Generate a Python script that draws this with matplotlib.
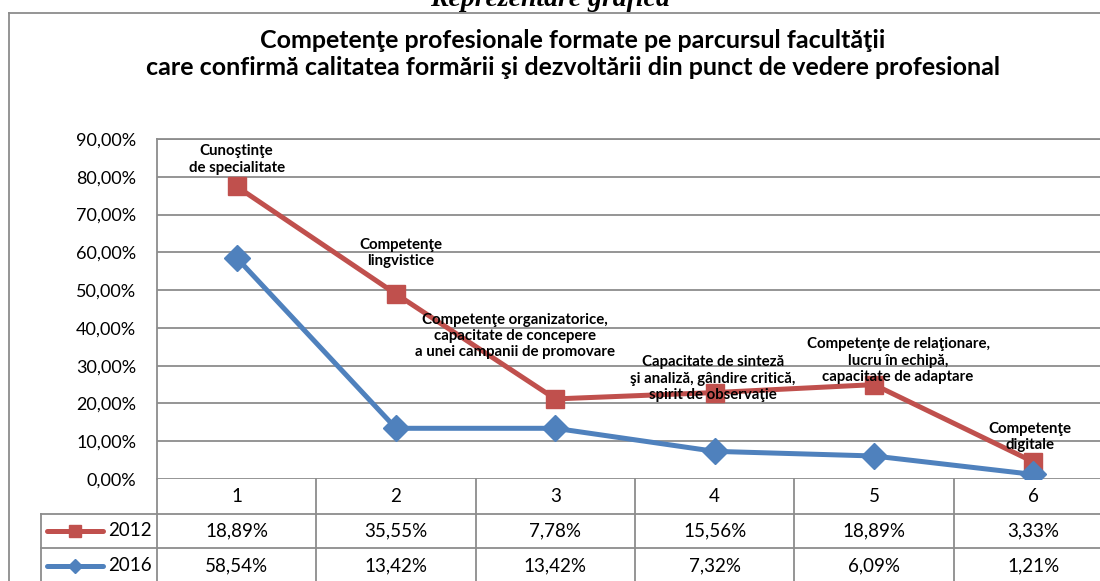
import numpy as np
import matplotlib
matplotlib.use('Agg')
import matplotlib.pyplot as plt
from matplotlib.lines import Line2D
from matplotlib.ticker import FuncFormatter

# Data (table values, %)
categories = ['1', '2', '3', '4', '5', '6']
series_names = ['2012', '2016']
v2012 = [18.89, 35.55, 7.78, 15.56, 18.89, 3.33]
v2016 = [58.54, 13.42, 13.42, 7.32, 6.09, 1.21]
point_labels = ['Cunoştinţe\nde specialitate',
                'Competenţe\nlingvistice',
                'Competenţe organizatorice,\ncapacitate de concepere\na unei campanii de promovare',
                'Capacitate de sinteză\nşi analiză, gândire critică,\nspirit de observaţie',
                'Competenţe de relaţionare,\nlucru în echipă,\ncapacitate de adaptare',
                'Competenţe\ndigitale']
label_offsets = [(0, 27), (5, 41), (-40, 63), (-2, 14), (24, 24), (-3, 25)]  # pixels

title = ('Competenţe profesionale formate pe parcursul facultăţii\n'
         'care confirmă calitatea formării şi dezvoltării din punct de vedere profesional')

red = '#C0504D'
blue = '#4F81BD'
grid_c = '#8C8C8C'

plt.rcParams['font.family'] = ['Lato', 'DejaVu Sans']

W, H = 1100, 581
fig = plt.figure(figsize=(W / 100, H / 100), dpi=100)

# axes placed in pixel terms
left, right, top, bottom = 157, 1113, 139, 479
ax = fig.add_axes([left / W, 1 - bottom / H, (right - left) / W, (bottom - top) / H])

x = np.arange(1, len(categories) + 1)
# stacked line chart
s2016 = np.array(v2016) / 100
s2012 = s2016 + np.array(v2012) / 100

ax.plot(x, s2012, color=red, lw=3.6, marker='s', ms=13, zorder=3)
ax.plot(x, s2016, color=blue, lw=3.6, marker='D', ms=13, zorder=4)

ax.set_xlim(0.5, len(categories) + 0.5)
ax.set_ylim(0, 0.9)
ax.set_yticks(np.arange(0, 0.91, 0.1))
ax.yaxis.set_major_formatter(FuncFormatter(lambda v, p: f'{v*100:.2f}%'.replace('.', ',')))
ax.tick_params(axis='y', length=0, pad=15, labelsize=13)
ax.set_xticks([])
ax.grid(axis='y', color=grid_c, lw=1.3)
ax.set_axisbelow(True)
for sp in ['right', 'bottom']:
    ax.spines[sp].set_visible(False)
for sp in ['left', 'top']:
    ax.spines[sp].set_color(grid_c)
    ax.spines[sp].set_linewidth(1.3)

for xi, yi, lab, off in zip(x, s2012, point_labels, label_offsets):
    ax.annotate(lab, (xi, yi), xytext=off, textcoords='offset pixels',
                ha='center', va='center', fontsize=10.8, fontweight='bold',
                linespacing=1.2, zorder=6)

# data table under the plot
ph = bottom - top
row_edges = [0, -35 / ph, -69 / ph, -104 / ph]
leg_left = 0.5 - (left - 41) / ((right - left) / len(categories))
tr = ax.get_xaxis_transform()
lk = dict(color=grid_c, lw=1.3, transform=tr, clip_on=False)
ax.add_line(Line2D([leg_left, 6.6], [row_edges[1]] * 2, **lk))
ax.add_line(Line2D([leg_left, 6.6], [row_edges[2]] * 2, **lk))
ax.add_line(Line2D([leg_left, leg_left], [row_edges[1], row_edges[3]], **lk))
for b in np.arange(0.5, 7.0, 1.0):
    ax.add_line(Line2D([b, b], [0, row_edges[3]], **lk))

for i, c in enumerate(categories):
    ax.text(x[i], (row_edges[0] + row_edges[1]) / 2, c, transform=tr,
            ha='center', va='center', fontsize=13.5)
rows = [(series_names[0], v2012, red, 's', 8), (series_names[1], v2016, blue, 'D', 7)]
for r, (name, vals, col, mk, ms) in enumerate(rows):
    yc = (row_edges[r + 1] + row_edges[r + 2]) / 2
    for i, v in enumerate(vals):
        ax.text(x[i], yc, f'{v:.2f}%'.replace('.', ','), transform=tr,
                ha='center', va='center', fontsize=13.5)
    ax.add_line(Line2D([leg_left + 0.04, leg_left + 0.39], [yc, yc], color=col, lw=3.6,
                       transform=tr, clip_on=False, solid_capstyle='round'))
    ax.add_line(Line2D([leg_left + 0.215], [yc], color=col, marker=mk, ms=ms,
                       transform=tr, clip_on=False))
    ax.text(0.47, yc, name, transform=tr, ha='right', va='center', fontsize=13.5)

# chart titles and outer frame
fig.text(573 / W, 1 - 54 / H, title, ha='center', va='center', fontsize=18,
         fontweight='bold', linespacing=1.22)
fig.text(0.5, 1 - 6 / H, 'Reprezentare grafică', ha='center', va='baseline',
         fontsize=20, fontweight='bold', fontstyle='italic', family='Liberation Serif')
fig.add_artist(Line2D([8.5 / W, 8.5 / W], [0, 1 - 12.5 / H], color=grid_c, lw=1.3))
fig.add_artist(Line2D([8.5 / W, 1], [1 - 12.5 / H] * 2, color=grid_c, lw=1.3))

fig.savefig('out.png', dpi=100)
